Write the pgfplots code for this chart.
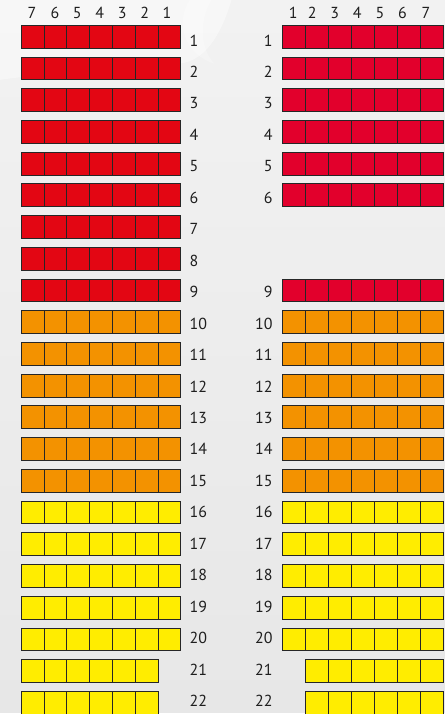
\documentclass[border=0pt]{standalone}
\usepackage{pgfplots}
\pgfplotsset{compat=1.18}
\usepackage{fontspec}
\setmainfont{PT Sans}
\definecolor{redL}{HTML}{E30613}
\definecolor{redR}{HTML}{E2002C}
\definecolor{orng}{HTML}{F39200}
\definecolor{yell}{HTML}{FFED00}
\definecolor{bgtop}{HTML}{F2F2F2}
\definecolor{bgbot}{HTML}{E7E7E7}
\definecolor{txt}{HTML}{1E1E1E}
\begin{document}
\begin{tikzpicture}
% background (canvas: 1 px = 1 bp, origin bottom-left)
\shade[top color=bgtop, bottom color=bgbot] (0,0) rectangle (446bp,714bp);
\fill[white, opacity=0.4] (0,714bp) -- (0,634bp)
  .. controls (60bp,642bp) and (140bp,650bp) .. (178bp,650bp)
  .. controls (210bp,652bp) and (225bp,690bp) .. (232bp,714bp) -- cycle;
\fill[white, opacity=0.25] (190bp,714bp)
  .. controls (175bp,690bp) and (185bp,660bp) .. (215bp,650bp)
  .. controls (200bp,665bp) and (200bp,695bp) .. (212bp,714bp) -- cycle;
\begin{axis}[
  scale only axis, width=446bp, height=714bp,
  xmin=0, xmax=446, ymin=-0.1478, ymax=22.305, y dir=reverse,
  hide axis, clip=false,
  seat/.style={only marks, mark=square*, mark size=11.45bp,
    mark options={draw=black!85, line width=0.9bp}},
]
% ---- left block (seats 7..1, left to right) ----
\addplot[seat, color=redL, mark options={fill=redL, draw=black!85}] coordinates {
(32.4,1)(55.3,1)(78.1,1)(101.0,1)(123.9,1)(146.7,1)(169.6,1)
(32.4,2)(55.3,2)(78.1,2)(101.0,2)(123.9,2)(146.7,2)(169.6,2)
(32.4,3)(55.3,3)(78.1,3)(101.0,3)(123.9,3)(146.7,3)(169.6,3)
(32.4,4)(55.3,4)(78.1,4)(101.0,4)(123.9,4)(146.7,4)(169.6,4)
(32.4,5)(55.3,5)(78.1,5)(101.0,5)(123.9,5)(146.7,5)(169.6,5)
(32.4,6)(55.3,6)(78.1,6)(101.0,6)(123.9,6)(146.7,6)(169.6,6)
(32.4,7)(55.3,7)(78.1,7)(101.0,7)(123.9,7)(146.7,7)(169.6,7)
(32.4,8)(55.3,8)(78.1,8)(101.0,8)(123.9,8)(146.7,8)(169.6,8)
(32.4,9)(55.3,9)(78.1,9)(101.0,9)(123.9,9)(146.7,9)(169.6,9)
};
\addplot[seat, color=orng, mark options={fill=orng, draw=black!85}] coordinates {
(32.4,10)(55.3,10)(78.1,10)(101.0,10)(123.9,10)(146.7,10)(169.6,10)
(32.4,11)(55.3,11)(78.1,11)(101.0,11)(123.9,11)(146.7,11)(169.6,11)
(32.4,12)(55.3,12)(78.1,12)(101.0,12)(123.9,12)(146.7,12)(169.6,12)
(32.4,13)(55.3,13)(78.1,13)(101.0,13)(123.9,13)(146.7,13)(169.6,13)
(32.4,14)(55.3,14)(78.1,14)(101.0,14)(123.9,14)(146.7,14)(169.6,14)
(32.4,15)(55.3,15)(78.1,15)(101.0,15)(123.9,15)(146.7,15)(169.6,15)
};
\addplot[seat, color=yell, mark options={fill=yell, draw=black!85}] coordinates {
(32.4,16)(55.3,16)(78.1,16)(101.0,16)(123.9,16)(146.7,16)(169.6,16)
(32.4,17)(55.3,17)(78.1,17)(101.0,17)(123.9,17)(146.7,17)(169.6,17)
(32.4,18)(55.3,18)(78.1,18)(101.0,18)(123.9,18)(146.7,18)(169.6,18)
(32.4,19)(55.3,19)(78.1,19)(101.0,19)(123.9,19)(146.7,19)(169.6,19)
(32.4,20)(55.3,20)(78.1,20)(101.0,20)(123.9,20)(146.7,20)(169.6,20)
(32.4,21)(55.3,21)(78.1,21)(101.0,21)(123.9,21)(146.7,21)
(32.4,22)(55.3,22)(78.1,22)(101.0,22)(123.9,22)(146.7,22)
};
% ---- right block (seats 1..7, left to right) ----
\addplot[seat, color=redR, mark options={fill=redR, draw=black!85}] coordinates {
(294.5,1)(317.5,1)(340.5,1)(363.5,1)(386.5,1)(409.5,1)(432.5,1)
(294.5,2)(317.5,2)(340.5,2)(363.5,2)(386.5,2)(409.5,2)(432.5,2)
(294.5,3)(317.5,3)(340.5,3)(363.5,3)(386.5,3)(409.5,3)(432.5,3)
(294.5,4)(317.5,4)(340.5,4)(363.5,4)(386.5,4)(409.5,4)(432.5,4)
(294.5,5)(317.5,5)(340.5,5)(363.5,5)(386.5,5)(409.5,5)(432.5,5)
(294.5,6)(317.5,6)(340.5,6)(363.5,6)(386.5,6)(409.5,6)(432.5,6)
(294.5,9)(317.5,9)(340.5,9)(363.5,9)(386.5,9)(409.5,9)(432.5,9)
};
\addplot[seat, color=orng, mark options={fill=orng, draw=black!85}] coordinates {
(294.5,10)(317.5,10)(340.5,10)(363.5,10)(386.5,10)(409.5,10)(432.5,10)
(294.5,11)(317.5,11)(340.5,11)(363.5,11)(386.5,11)(409.5,11)(432.5,11)
(294.5,12)(317.5,12)(340.5,12)(363.5,12)(386.5,12)(409.5,12)(432.5,12)
(294.5,13)(317.5,13)(340.5,13)(363.5,13)(386.5,13)(409.5,13)(432.5,13)
(294.5,14)(317.5,14)(340.5,14)(363.5,14)(386.5,14)(409.5,14)(432.5,14)
(294.5,15)(317.5,15)(340.5,15)(363.5,15)(386.5,15)(409.5,15)(432.5,15)
};
\addplot[seat, color=yell, mark options={fill=yell, draw=black!85}] coordinates {
(294.5,16)(317.5,16)(340.5,16)(363.5,16)(386.5,16)(409.5,16)(432.5,16)
(294.5,17)(317.5,17)(340.5,17)(363.5,17)(386.5,17)(409.5,17)(432.5,17)
(294.5,18)(317.5,18)(340.5,18)(363.5,18)(386.5,18)(409.5,18)(432.5,18)
(294.5,19)(317.5,19)(340.5,19)(363.5,19)(386.5,19)(409.5,19)(432.5,19)
(294.5,20)(317.5,20)(340.5,20)(363.5,20)(386.5,20)(409.5,20)(432.5,20)
(317.5,21)(340.5,21)(363.5,21)(386.5,21)(409.5,21)(432.5,21)
(317.5,22)(340.5,22)(363.5,22)(386.5,22)(409.5,22)(432.5,22)
};
% ---- seat-number labels ----
\tikzset{lab/.style={font=\fontsize{16bp}{19bp}\selectfont, text=txt, inner sep=0pt}}
\node[lab] at (axis cs:32,0.261) {7};
\node[lab] at (axis cs:55,0.261) {6};
\node[lab] at (axis cs:77.5,0.261) {5};
\node[lab] at (axis cs:100,0.261) {4};
\node[lab] at (axis cs:122.5,0.261) {3};
\node[lab] at (axis cs:145,0.261) {2};
\node[lab] at (axis cs:167.5,0.261) {1};
\node[lab] at (axis cs:294,0.261) {1};
\node[lab] at (axis cs:313,0.261) {2};
\node[lab] at (axis cs:335.5,0.261) {3};
\node[lab] at (axis cs:358,0.261) {4};
\node[lab] at (axis cs:381,0.261) {5};
\node[lab] at (axis cs:403.5,0.261) {6};
\node[lab] at (axis cs:427,0.261) {7};
% ---- row labels ----
\pgfplotsinvokeforeach{1,...,22}{
  \node[lab, anchor=west] at (axis cs:190,{#1+0.126-0.0085*(#1-1)}) {#1};
}
\pgfplotsinvokeforeach{1,2,3,4,5,6,9,10,11,12,13,14,15,16,17,18,19,20,21,22}{
  \node[lab, anchor=east] at (axis cs:273.5,{#1+0.126-0.0085*(#1-1)}) {#1};
}
\end{axis}
\end{tikzpicture}
\end{document}
